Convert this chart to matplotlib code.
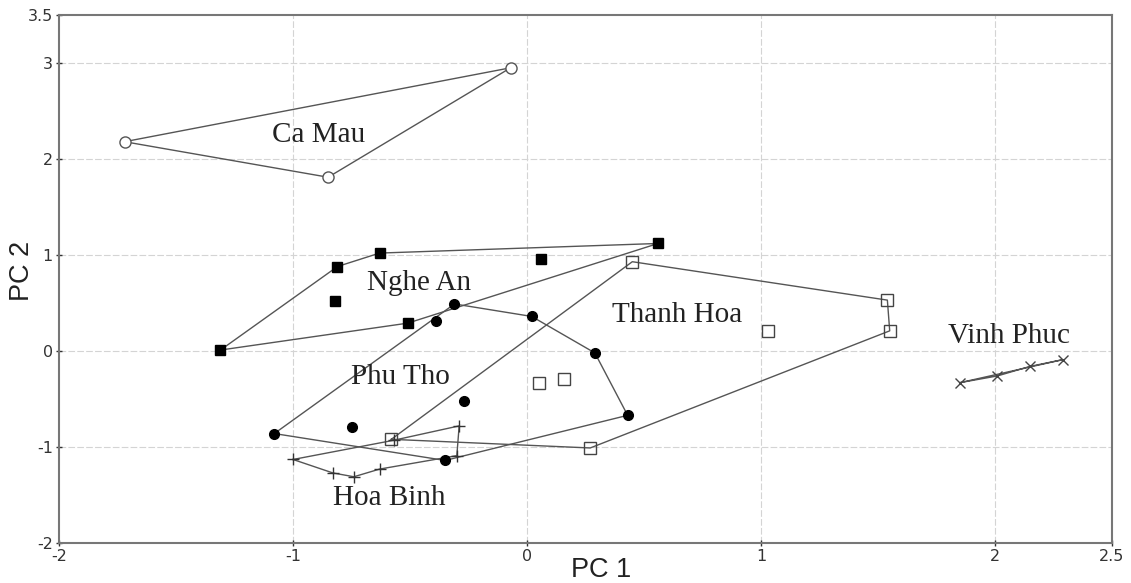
import matplotlib.pyplot as plt

# PCA scores, one group per province
ca_mau_x = [-1.72, -0.85, -0.07]
ca_mau_y = [2.18, 1.81, 2.95]
ca_mau_hull = [0, 1, 2]

nghe_an_x = [-1.31, -0.81, -0.63, 0.56, -0.51, -0.82, 0.06]
nghe_an_y = [0.01, 0.88, 1.02, 1.12, 0.29, 0.52, 0.96]
nghe_an_hull = [0, 1, 2, 3, 4]

phu_tho_x = [-1.08, -0.31, 0.02, 0.29, 0.43, -0.35, -0.39, -0.75, -0.27]
phu_tho_y = [-0.86, 0.49, 0.36, -0.02, -0.67, -1.14, 0.31, -0.79, -0.52]
phu_tho_hull = [0, 1, 2, 3, 4, 5]

thanh_hoa_x = [-0.58, 0.45, 1.54, 1.55, 0.27, 1.03, 0.05, 0.16]
thanh_hoa_y = [-0.92, 0.93, 0.53, 0.21, -1.01, 0.21, -0.33, -0.29]
thanh_hoa_hull = [0, 1, 2, 3, 4]

hoa_binh_x = [-1.00, -0.57, -0.29, -0.30, -0.63, -0.74, -0.83]
hoa_binh_y = [-1.13, -0.93, -0.78, -1.09, -1.23, -1.31, -1.27]
hoa_binh_hull = [0, 1, 2, 3, 4, 5, 6]

vinh_phuc_x = [1.85, 2.01, 2.15, 2.29]
vinh_phuc_y = [-0.33, -0.26, -0.16, -0.09]
vinh_phuc_hull = [0, 1, 2, 3]

labels = ['Ca Mau', 'Nghe An', 'Thanh Hoa', 'Phu Tho', 'Hoa Binh', 'Vinh Phuc']
label_x = [-0.89, -0.46, 0.64, -0.54, -0.59, 2.06]
label_y = [2.25, 0.71, 0.37, -0.27, -1.53, 0.16]

fig = plt.figure(figsize=(11.31, 5.83), dpi=100)
ax = fig.add_axes([0.0522, 0.0686, 0.9310, 0.9057])

line_col = '#555555'


def draw_group(xs, ys, hull, mstyle):
    hx = [xs[i] for i in hull] + [xs[hull[0]]]
    hy = [ys[i] for i in hull] + [ys[hull[0]]]
    ax.plot(hx, hy, color=line_col, lw=1.0, zorder=2)
    ax.plot(xs, ys, linestyle='none', zorder=3, **mstyle)


draw_group(ca_mau_x, ca_mau_y, ca_mau_hull,
           dict(marker='o', ms=8, mfc='white', mec='#555555', mew=1.0))
draw_group(nghe_an_x, nghe_an_y, nghe_an_hull,
           dict(marker='s', ms=7, mfc='black', mec='black'))
draw_group(phu_tho_x, phu_tho_y, phu_tho_hull,
           dict(marker='o', ms=7, mfc='black', mec='black'))
draw_group(thanh_hoa_x, thanh_hoa_y, thanh_hoa_hull,
           dict(marker='s', ms=8, mfc='none', mec='#444444', mew=1.0))
draw_group(hoa_binh_x, hoa_binh_y, hoa_binh_hull,
           dict(marker='+', ms=9, mec='#333333', mew=1.0))
draw_group(vinh_phuc_x, vinh_phuc_y, vinh_phuc_hull,
           dict(marker='x', ms=7, mec='#444444', mew=1.0))

for t, lx, ly in zip(labels, label_x, label_y):
    ax.text(lx, ly, t, ha='center', va='center', fontsize=21,
            family='Liberation Serif', color='#222222', zorder=4)

ax.set_xlim(-2, 2.5)
ax.set_ylim(-2, 3.5)
ax.set_xticks([-2, -1, 0, 1, 2, 2.5])
ax.set_xticklabels(['-2', '-1', '0', '1', '2', '2.5'])
ax.set_yticks([-2, -1, 0, 1, 2, 3, 3.5])
ax.set_yticklabels(['-2', '-1', '0', '1', '2', '3', '3.5'])
ax.tick_params(labelsize=11.5, colors='#333333', direction='inout', length=5,
               width=1, pad=2)

# dashed grid only at whole units
for gx in [-1, 0, 1, 2]:
    ax.axvline(gx, color='#d4d4d4', lw=0.8, ls=(0, (6, 2)), zorder=1)
for gy in [-1, 0, 1, 2, 3]:
    ax.axhline(gy, color='#d4d4d4', lw=0.8, ls=(0, (6, 2)), zorder=1)

for s in ax.spines.values():
    s.set_color('#777777')
    s.set_linewidth(1.5)

ax.set_xlabel('PC 1', fontsize=19.5, family='Liberation Sans', color='#222222', va='center')
ax.set_ylabel('PC 2', fontsize=19.5, family='Liberation Sans', color='#222222', va='center')
ax.xaxis.set_label_coords(0.515, -0.052)
ax.yaxis.set_label_coords(-0.035, 0.515)

fig.savefig('out.png', dpi=100)
